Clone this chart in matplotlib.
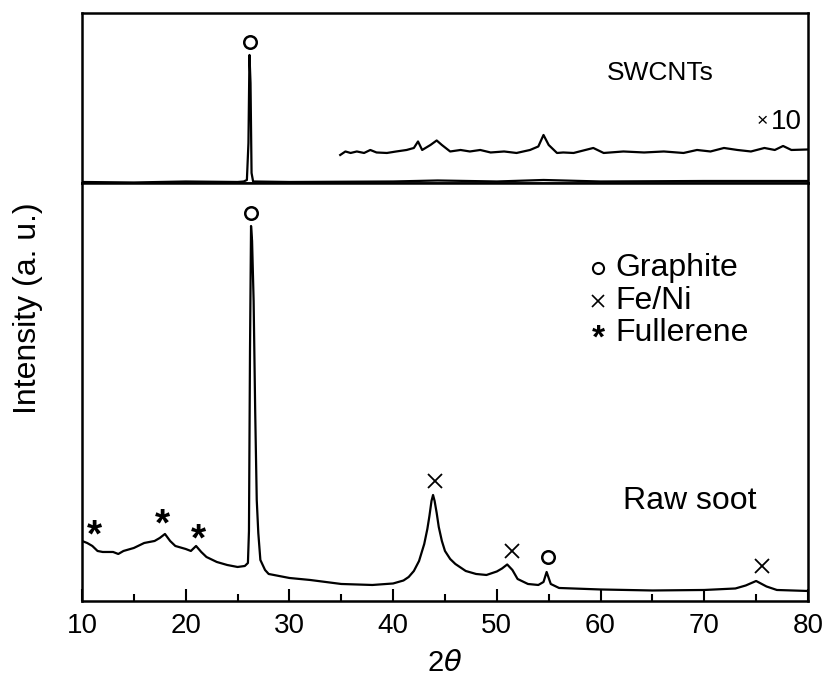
import matplotlib
matplotlib.use("Agg")
import matplotlib.pyplot as plt


# =========================
# DATA
# =========================

# raw soot trace, 2theta vs intensity (a. u.)
soot_2theta = [
    10.0, 10.5, 11.0, 11.5, 12.0, 13.0, 13.5, 14.0, 15.0, 16.0, 17.0, 17.5,
    18.0, 18.5, 19.0, 20.0, 20.5, 21.0, 21.5, 22.0, 23.0, 24.0, 25.0, 25.7,
    26.0, 26.1, 26.2, 26.3, 26.4, 26.55, 26.7, 26.85, 27.0, 27.2, 27.65,
    28.0, 30.0, 32.0, 35.0, 38.0, 40.0, 41.0, 41.5, 42.0, 42.5, 43.0, 43.3,
    43.5, 43.7, 43.85, 44.0, 44.2, 44.4, 44.7, 45.0, 45.5, 46.0, 47.0, 48.0,
    49.0, 50.0, 50.5, 51.0, 51.5, 52.0, 53.0, 54.0, 54.5, 54.8, 55.2, 56.0,
    60.0, 65.0, 70.0, 73.0, 74.0, 75.0, 76.0, 77.0, 80.0
]
soot_intensity = [
    60, 58, 55, 50, 49, 49, 47, 50, 53, 58, 60, 63,
    67, 60, 55, 52, 50, 55, 49, 44, 39, 36, 34, 35,
    38, 70, 250, 375, 360, 300, 190, 101, 68, 41, 31,
    27, 23, 21, 17, 16, 17.5, 20.5, 24, 30, 40, 57, 72,
    85, 100, 106, 100, 88, 74, 60, 50, 42, 37, 30, 27,
    26, 29.5, 32.5, 36.5, 31, 22, 17, 16, 19, 29, 17, 13,
    11.5, 10.5, 11, 12.5, 15.5, 20, 14.5, 11, 10
]

# SWCNTs trace (x1)
swcnt_2theta = [
    10.0, 15.0, 20.0, 25.0, 25.6, 25.9, 26.05, 26.15, 26.25, 26.35, 26.5,
    30.0, 40.0, 44.3, 50.0, 54.5, 60.0, 70.0, 80.0
]
swcnt_intensity = [
    1, 0.5, 1.5, 1, 1.5, 3, 40, 128, 100, 10, 1.5,
    1, 1.5, 2.5, 1.5, 3, 1.5, 2, 2
]

# SWCNTs trace magnified x10
zoom_2theta = [
    34.9, 35.4, 35.9, 36.5, 37.2, 37.8, 38.4, 39.4, 40.3, 41.3, 42.0, 42.4,
    42.8, 43.6, 44.2, 44.7, 45.5, 46.5, 47.4, 48.4, 49.4, 50.7, 51.9, 53.2,
    54.0, 54.5, 55.0, 55.8, 56.4, 57.4, 59.3, 60.3, 62.2, 64.2, 66.1, 68.0,
    69.3, 70.6, 71.9, 73.2, 74.5, 75.8, 76.8, 77.6, 78.4, 80.0
]
zoom_intensity = [
    28, 31.5, 30, 31.5, 30, 33, 30.5, 30, 31.5, 33, 35, 41.5,
    33, 38, 42.5, 38, 31.5, 33, 31.5, 33, 30.5, 31.5, 30, 33,
    36.5, 48, 38, 30, 30.5, 30, 35, 30, 31.5, 30.5, 31.5, 30,
    33, 31.5, 35, 33, 31.5, 35, 33, 37, 33, 33.5
]

# peak labels
graphite_peaks = [26.3, 54.9]
graphite_marks = [388, 44]
feni_peaks = [44.0, 51.5, 75.6]
feni_marks = [120, 50, 35]
fullerene_peaks = [11.2, 17.8, 21.2]
fullerene_marks = [64, 75, 60]

legend_labels = ["Graphite", "Fe/Ni", "Fullerene"]


def style_axis(ax):

    for side in ["left", "right", "top", "bottom"]:
        ax.spines[side].set_linewidth(1.8)

    ax.set_xlim(10, 80)


def make_plot():

    plt.rcParams["font.family"] = ["Liberation Sans", "DejaVu Sans"]
    plt.rcParams["mathtext.fontset"] = "dejavusans"

    fig = plt.figure(figsize=(8.34, 6.82), dpi=100)

    ax_top = fig.add_axes([0.0983, 0.7317, 0.8705, 0.2493])
    ax_bot = fig.add_axes([0.0983, 0.1188, 0.8705, 0.6129])

    # =========================
    # TOP PANEL: SWCNTs
    # =========================

    style_axis(ax_top)
    ax_top.set_ylim(0, 170)
    ax_top.set_xticks([])
    ax_top.set_yticks([])

    ax_top.plot(swcnt_2theta, swcnt_intensity, color="black", lw=1.6)
    ax_top.plot(zoom_2theta, zoom_intensity, color="black", lw=1.6)

    ax_top.plot([26.2], [141], marker="o", ms=9, mfc="none", mec="black",
                mew=1.8, ls="none")

    ax_top.text(65.8, 110, "SWCNTs", fontsize=19, ha="center", va="center")
    ax_top.text(75.6, 61, "\u00d7", fontsize=14, ha="center", va="center")
    ax_top.text(76.4, 61, "10", fontsize=20, ha="left", va="center")

    # =========================
    # BOTTOM PANEL: Raw soot
    # =========================

    style_axis(ax_bot)
    ax_bot.set_ylim(0, 418)
    ax_bot.set_yticks([])

    ax_bot.set_xticks(range(10, 81, 10))
    ax_bot.set_xticks(range(15, 80, 10), minor=True)
    ax_bot.tick_params(axis="x", which="major", direction="in", length=9,
                       width=1.5, labelsize=20, pad=9, top=False)
    ax_bot.tick_params(axis="x", which="minor", direction="in", length=5,
                       width=1.5, top=False)

    ax_bot.plot(soot_2theta, soot_intensity, color="black", lw=1.6)

    ax_bot.plot(graphite_peaks, graphite_marks, marker="o", ms=9, mfc="none",
                mec="black", mew=1.8, ls="none")
    ax_bot.plot(feni_peaks, feni_marks, marker="x", ms=10, mec="black",
                mew=1.3, ls="none")
    for x, y in zip(fullerene_peaks, fullerene_marks):
        ax_bot.text(x, y, "*", fontsize=28, fontweight="bold",
                    ha="center", va="center")

    # legend written as text
    ax_bot.plot([59.8], [333], marker="o", ms=8, mfc="none", mec="black",
                mew=1.5, ls="none")
    ax_bot.plot([59.8], [300], marker="x", ms=8, mec="black", mew=1.2,
                ls="none")
    ax_bot.text(59.8, 262, "*", fontsize=24, fontweight="bold",
                ha="center", va="center")
    for y, label in zip([333, 300, 268], legend_labels):
        ax_bot.text(61.4, y, label, fontsize=23, ha="left", va="center")

    ax_bot.text(68.6, 100, "Raw soot", fontsize=23, ha="center",
                va="center")

    ax_bot.set_xlabel(r"2$\theta$", fontsize=21, labelpad=7)

    fig.text(0.034, 0.548, "Intensity (a. u.)", fontsize=23, rotation=90,
             ha="center", va="center")

    fig.savefig("out.png", dpi=100)
    plt.close(fig)


if __name__ == "__main__":

    make_plot()
